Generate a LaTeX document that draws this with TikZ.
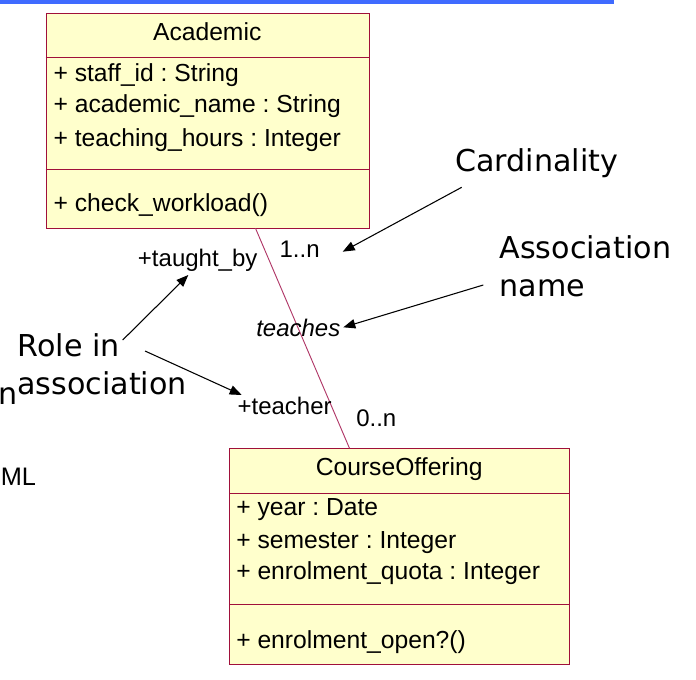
\documentclass[tikz,border=0pt]{standalone}
\usepackage{fontspec}
\setmainfont{Liberation Sans}
\newfontfamily\notefont{DejaVu Sans}
\usetikzlibrary{arrows.meta}
\definecolor{boxfill}{HTML}{FFFFCC}
\definecolor{boxline}{HTML}{A0103A}
\definecolor{assoc}{HTML}{B03868}
\definecolor{topbar}{HTML}{3F6BFF}
\frenchspacing
\begin{document}
\begin{tikzpicture}[x=0.75pt,y=-0.75pt,
  classbox/.style={draw=boxline, fill=boxfill, line width=0.9pt, inner sep=0pt, anchor=north west},
  divider/.style={draw=boxline, line width=0.8pt},
  ctext/.style={anchor=base west, inner sep=0pt, font=\fontsize{18.5}{20}\selectfont},
  ctitle/.style={anchor=base, inner sep=0pt, font=\fontsize{18.5}{20}\selectfont},
  lbl/.style={anchor=base west, inner sep=0pt, font=\fontsize{18}{20}\selectfont},
  note/.style={anchor=base west, inner sep=0pt, font=\notefont\fontsize{22.6}{25}\selectfont},
  assocline/.style={draw=assoc, line width=0.7pt},
  pointer/.style={draw=black, line width=0.8pt, -{Triangle[length=9pt,width=7pt]}}
]
\useasboundingbox (0,0) rectangle (696,680);
% top bar
\fill[topbar] (0,0) rectangle (614,4.5);
% Academic class
\node[classbox, minimum width=242.2pt, minimum height=161.7pt] (acad) at (45.7,12.7) {};
\draw[divider] (acad.west |- 0,57.3) -- (acad.east |- 0,57.3);
\draw[divider] (acad.west |- 0,169.3) -- (acad.east |- 0,169.3);
\node[ctitle] (acadname) at (207.2,40.7) {Academic};
\node[ctext] (a1) at (53.3,81.7) {+ staff\_id : String};
\node[ctext] (a2) at (53.3,113) {+ academic\_name : String};
\node[ctext] (a3) at (53.3,146.7) {+ teaching\_hours : Integer};
\node[ctext] (a4) at (53.3,211.7) {+ check\_workload()};
% CourseOffering class
\node[classbox, minimum width=255.2pt, minimum height=161.8pt] (course) at (229,448.3) {};
\draw[divider] (course.west |- 0,493.3) -- (course.east |- 0,493.3);
\draw[divider] (course.west |- 0,604.7) -- (course.east |- 0,604.7);
\node[ctitle] (coursename) at (399.2,476) {CourseOffering};
\node[ctext] (c1) at (236,516) {+ year : Date};
\node[ctext] (c2) at (236,548.3) {+ semester : Integer};
\node[ctext] (c3) at (236,579.3) {+ enrolment\_quota : Integer};
\node[ctext] (c4) at (236,648.3) {+ enrolment\_open?()};
% association
\coordinate (endA) at (255.5,228.3);
\coordinate (endC) at (349.5,448.3);
\draw[assocline] (endA) -- (endC);
\node[lbl] (taughtby) at (137.7,266.7) {+taught\_by};
\node[lbl] (multA) at (279.3,257.3) {1..n};
\node[lbl] (teaches) at (256,336.7) {\itshape teaches};
\node[lbl] (teacher) at (237.3,414.3) {+teacher};
\node[lbl] (multC) at (356,427) {0..n};
% annotations
\node[note] (card) at (455,171.7) {Cardinality};
\node[note] (assocname1) at (499.3,258.3) {Association};
\node[note] (assocname2) at (499.3,296.7) {name};
\node[note] (role1) at (17.3,356.7) {Role in};
\node[note] (role2) at (17,395) {association};
\node[note] (cutn) at (-2,405) {n};
\node[anchor=base west, inner sep=0pt, font=\fontsize{19}{21}\selectfont] (cutml) at (0.5,485.5) {ML};
% pointer arrows
\coordinate (p1s) at (461.7,187.3);
\coordinate (p1e) at (342.7,251.7);
\coordinate (p2s) at (483.3,285);
\coordinate (p2e) at (343.3,327.3);
\coordinate (p3s) at (122.7,340);
\coordinate (p3e) at (188.3,275);
\coordinate (p4s) at (145,351);
\coordinate (p4e) at (241.7,395);
\draw[pointer] (p1s) -- (p1e);
\draw[pointer] (p2s) -- (p2e);
\draw[pointer] (p3s) -- (p3e);
\draw[pointer] (p4s) -- (p4e);
\end{tikzpicture}
\end{document}
